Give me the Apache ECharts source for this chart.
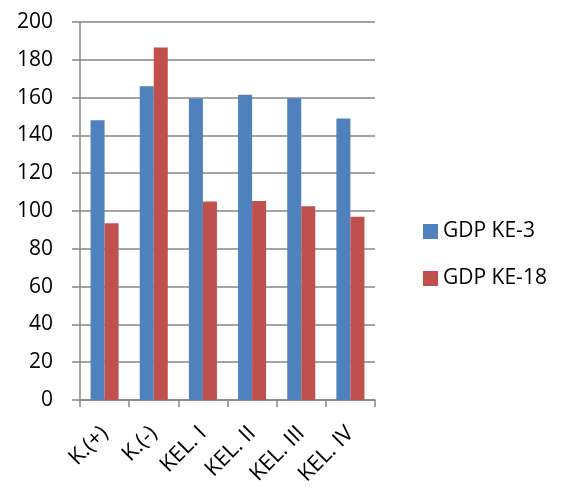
<!DOCTYPE html>
<html>
<head>
<meta charset="utf-8">
<script src="https://cdn.jsdelivr.net/npm/echarts@6/dist/echarts.min.js"></script>
<style>
  html, body { margin: 0; padding: 0; background: #fff; }
  #main { width: 562px; height: 489px; }
</style>
</head>
<body>
<div id="main"></div>
<script>
// data
var categories = ['K.(+)', 'K.(-)', 'KEL. I', 'KEL. II', 'KEL. III', 'KEL. IV'];
var gdpKe3 = [148, 166, 159.5, 161.5, 159.7, 149];
var gdpKe18 = [93.5, 186.5, 105, 105.3, 102.5, 97];
var seriesNames = ['GDP KE-3', 'GDP KE-18'];

var chart = echarts.init(document.getElementById('main'));
var font = '"Open Sans", "Liberation Sans", sans-serif';

var option = {
  animation: false,
  color: ['#4f81bd', '#c0504d'],
  grid: {
    left: 80,
    top: 22,
    width: 295,
    height: 378,
    containLabel: false
  },
  legend: {
    orient: 'vertical',
    left: 418,
    top: 216,
    itemWidth: 15,
    itemHeight: 15,
    itemGap: 26,
    icon: 'rect',
    textStyle: { fontFamily: font, fontSize: 21, color: '#000' },
    data: seriesNames
  },
  xAxis: {
    type: 'category',
    data: categories,
    axisLine: { lineStyle: { color: '#868686', width: 1.5 } },
    axisTick: { show: true, length: 7, lineStyle: { color: '#868686', width: 1.5 } },
    axisLabel: {
      rotate: 45,
      interval: 0,
      margin: 30,
      fontFamily: font,
      fontSize: 22,
      color: '#000'
    }
  },
  yAxis: {
    type: 'value',
    min: 0,
    max: 200,
    interval: 20,
    axisLine: { show: true, lineStyle: { color: '#868686', width: 1.5 } },
    axisTick: { show: true, length: 8, lineStyle: { color: '#868686', width: 1.5 } },
    splitLine: { lineStyle: { color: '#868686', width: 1.5 } },
    axisLabel: {
      margin: 27,
      fontFamily: font,
      fontSize: 21,
      color: '#000'
    }
  },
  series: [
    {
      name: seriesNames[0],
      type: 'bar',
      data: gdpKe3,
      barGap: '0%',
      barCategoryGap: '43%'
    },
    {
      name: seriesNames[1],
      type: 'bar',
      data: gdpKe18
    }
  ]
};

chart.setOption(option);
</script>
</body>
</html>
